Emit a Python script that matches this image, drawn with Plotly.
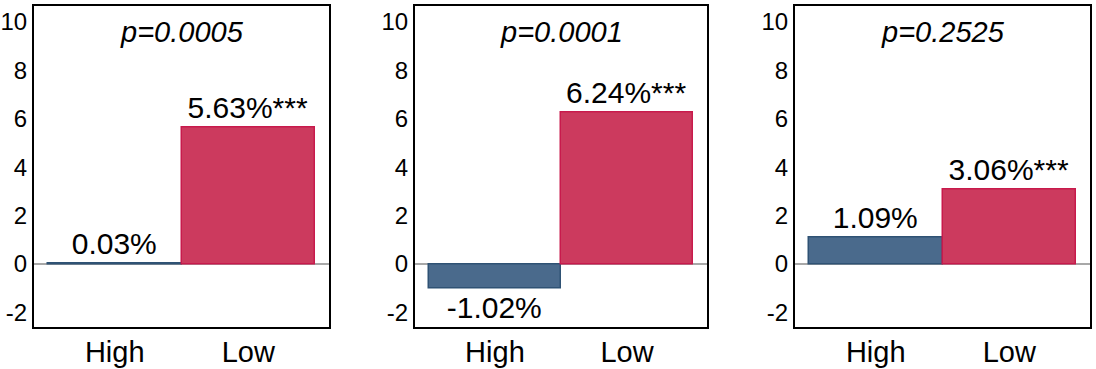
import plotly.graph_objects as go
from plotly.subplots import make_subplots

categories = ["High", "Low"]
high_values = [0.03, -1.02, 1.09]
low_values = [5.63, 6.24, 3.06]
high_labels = ["0.03%", "-1.02%", "1.09%"]
low_labels = ["5.63%***", "6.24%***", "3.06%***"]
p_values = ["p=0.0005", "p=0.0001", "p=0.2525"]
y_ticks = [-2, 0, 2, 4, 6, 8, 10]
y_tick_text = ["-2", "0", "2", "4", "6", "8", "10"]

BLUE = "#4a6a8c"
BLUE_EDGE = "#2f5274"
RED = "#cc3a5e"
RED_EDGE = "#c81a4c"
FONT = "Liberation Sans, Arial, sans-serif"

W, H = 1096, 369
# panel frames in pixels (left, right)
panels_px = [(34, 329), (415, 707), (795, 1090)]
y_dom = [1 - 327 / H, 1 - 5.5 / H]

fig = make_subplots(rows=1, cols=3)

for i in range(3):
    col = i + 1
    fig.add_trace(
        go.Bar(
            x=categories,
            y=[high_values[i], low_values[i]],
            text=[high_labels[i], low_labels[i]],
            textposition="outside",
            textfont=dict(size=30, color="black", family=FONT),
            constraintext="none",
            cliponaxis=False,
            marker=dict(color=[BLUE, RED], line=dict(color=[BLUE_EDGE, RED_EDGE], width=1.5)),
            showlegend=False,
            hoverinfo="skip",
        ),
        row=1,
        col=col,
    )
    l, r = panels_px[i]
    fig.update_xaxes(
        domain=[l / W, r / W],
        range=[-0.605, 1.605],
        automargin=False,
        showline=True,
        mirror=True,
        linecolor="black",
        linewidth=2,
        showgrid=False,
        ticks="",
        ticklabelstandoff=-2,
        tickfont=dict(size=29, color="black", family=FONT),
        row=1,
        col=col,
    )
    fig.update_yaxes(
        domain=y_dom,
        range=[-2.6, 10.67],
        tickvals=y_ticks,
        ticktext=y_tick_text,
        automargin=False,
        showline=True,
        mirror=True,
        linecolor="black",
        linewidth=2,
        showgrid=False,
        zeroline=True,
        zerolinecolor="#a8a8a8",
        zerolinewidth=2,
        ticks="",
        tickfont=dict(size=24, color="black", family=FONT),
        row=1,
        col=col,
    )
    xref = "x domain" if col == 1 else f"x{col} domain"
    fig.add_annotation(
        text=f"<i>{p_values[i]}</i>",
        xref=xref,
        yref="paper",
        x=0.5,
        y=1 - 32 / H,
        yanchor="middle",
        showarrow=False,
        font=dict(size=29, color="black", family=FONT),
    )

fig.update_layout(
    width=W,
    height=H,
    margin=dict(l=0, r=0, t=0, b=0),
    bargap=0,
    paper_bgcolor="white",
    plot_bgcolor="white",
    font=dict(family=FONT, color="black"),
)

# drop the browser's default page margin so the figure fills the window
fig.write_html(
    "out.html",
    config={"displayModeBar": False},
    post_script="document.body.style.margin='0';document.body.style.overflow='hidden';",
)
